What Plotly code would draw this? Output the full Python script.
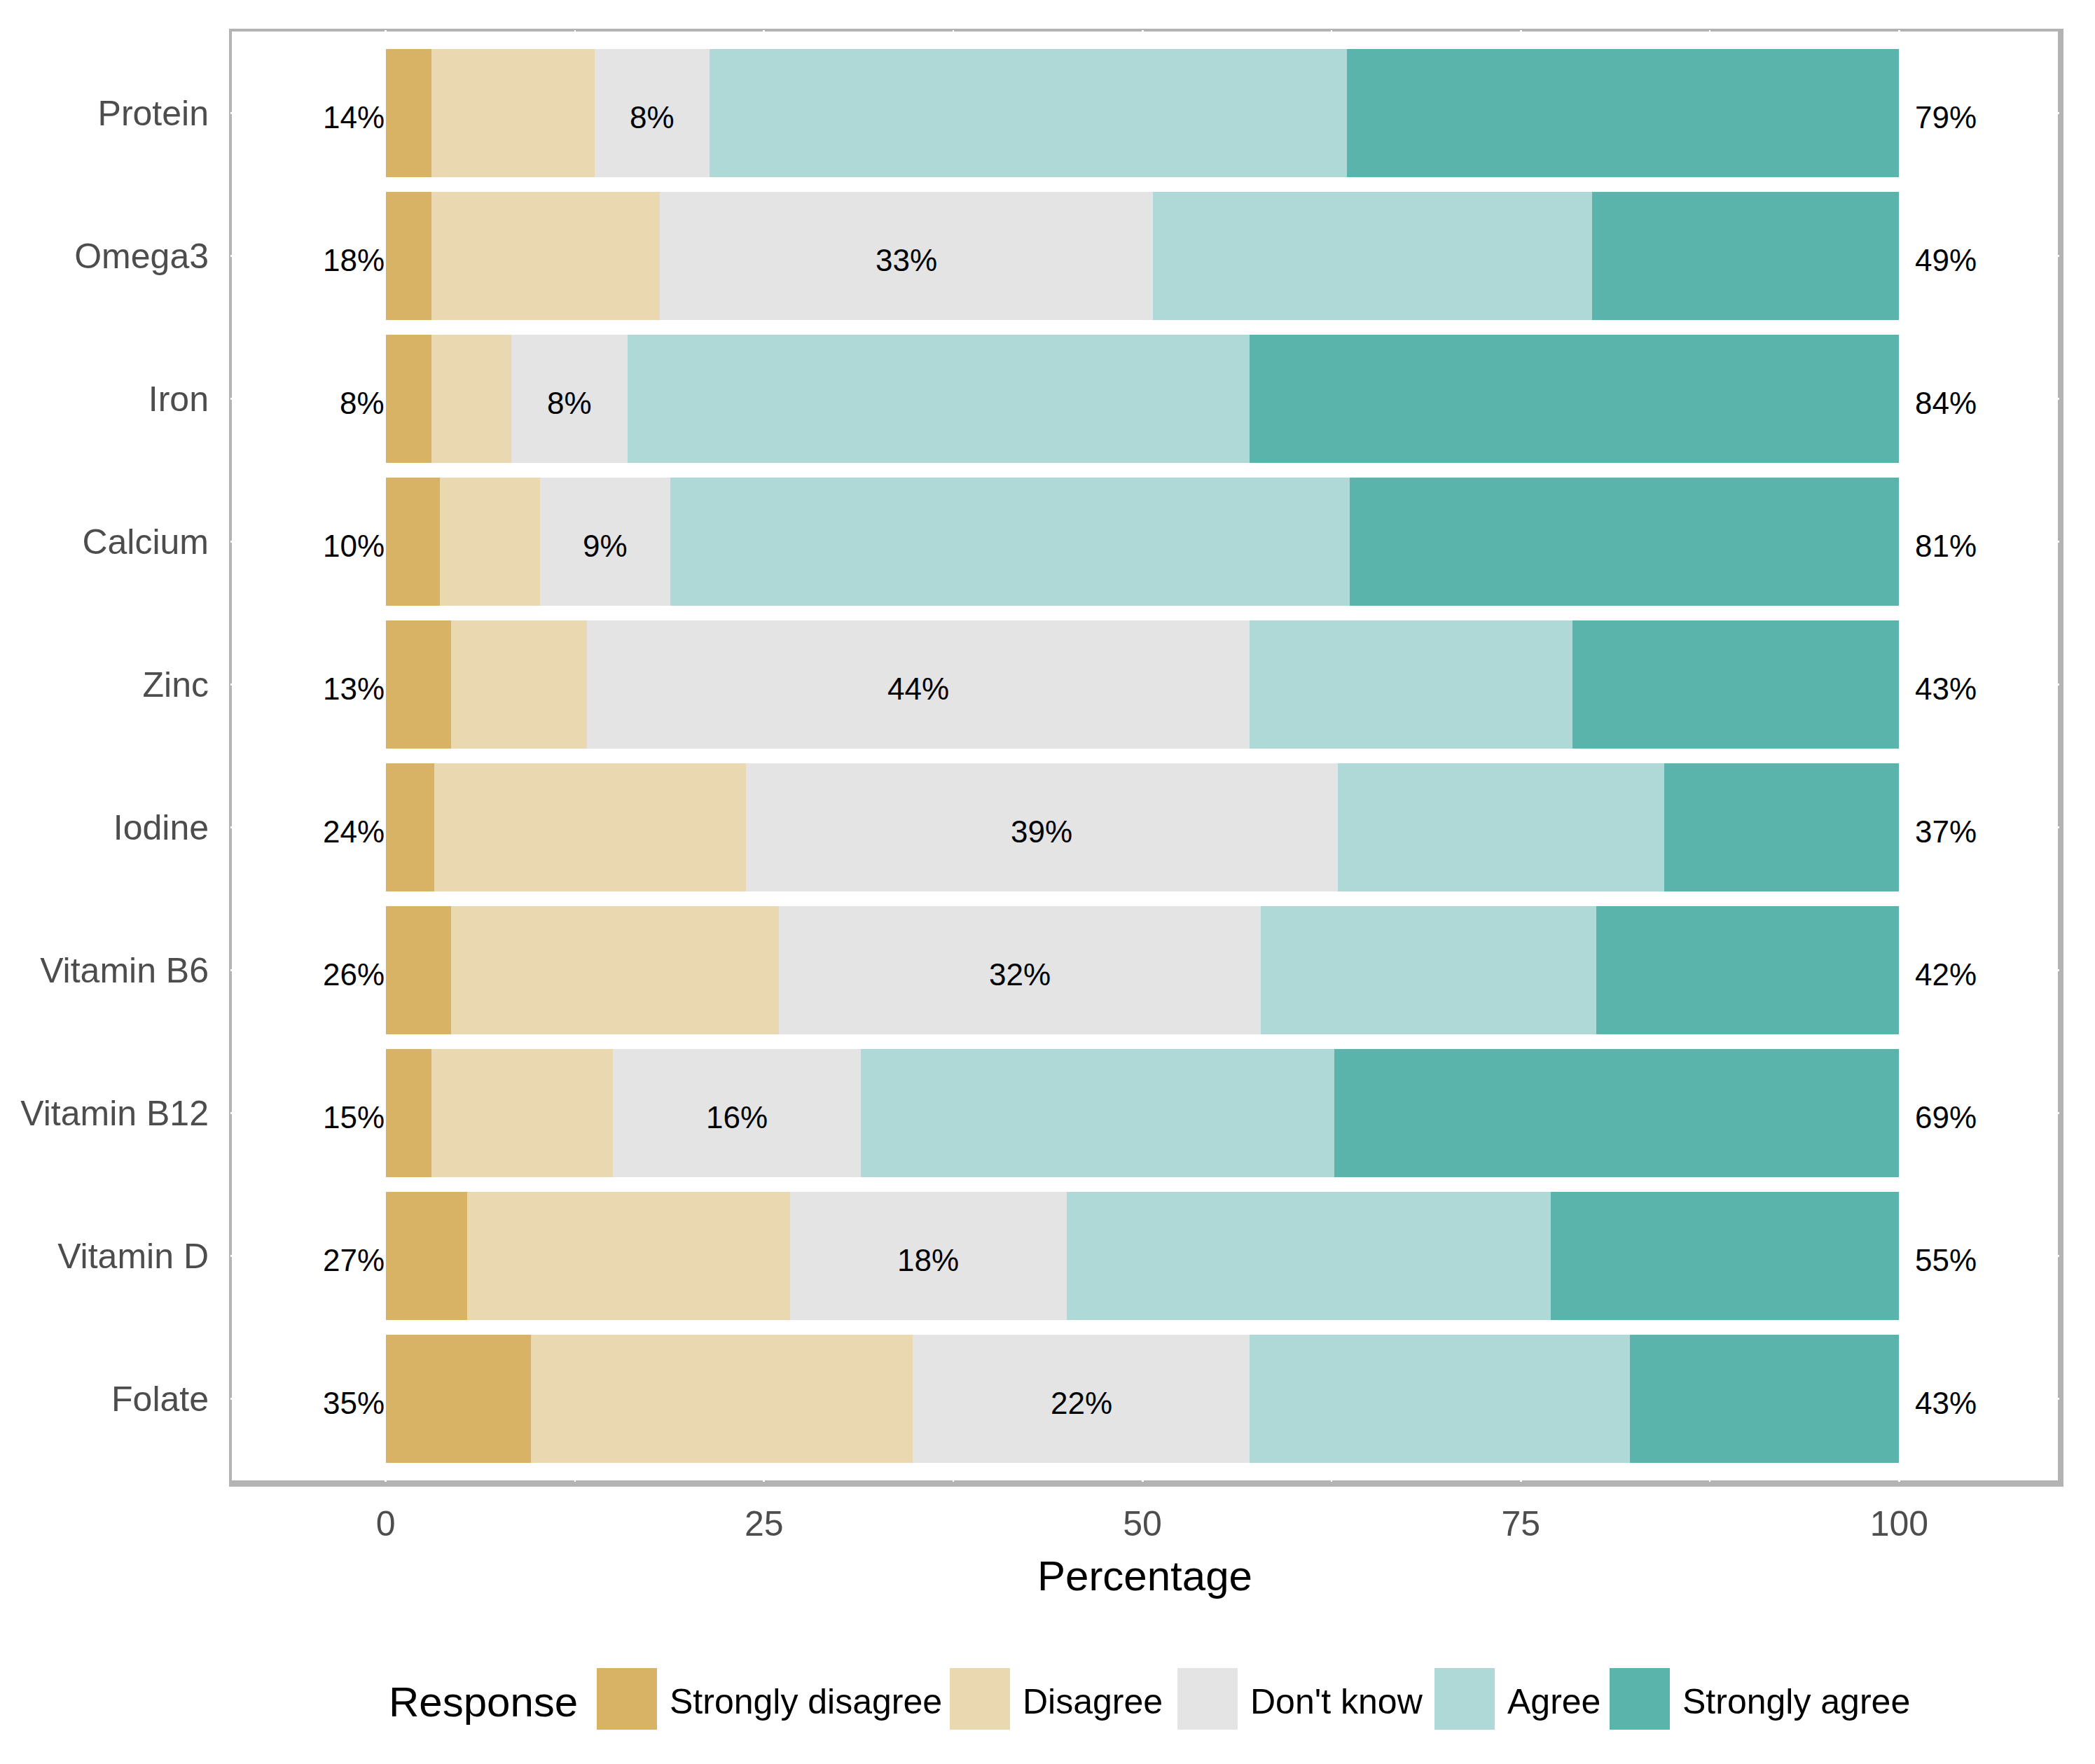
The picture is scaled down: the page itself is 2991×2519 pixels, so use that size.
import plotly.graph_objects as go

# ---------------- data ----------------
categories = ["Protein", "Omega3", "Iron", "Calcium", "Zinc", "Iodine",
              "Vitamin B6", "Vitamin B12", "Vitamin D", "Folate"]
responses = ["Strongly disagree", "Disagree", "Don't know", "Agree", "Strongly agree"]

strongly_disagree = [3.0, 3.0, 3.0, 3.6, 4.3, 3.2, 4.3, 3.0, 5.4, 9.6]
disagree          = [10.8, 15.1, 5.3, 6.6, 9.0, 20.6, 21.7, 12.0, 21.3, 25.2]
dont_know         = [7.6, 32.6, 7.7, 8.6, 43.8, 39.1, 31.8, 16.4, 18.3, 22.3]
agree             = [42.1, 29.0, 41.1, 44.9, 21.3, 21.6, 22.2, 31.3, 32.0, 25.1]
strongly_agree    = [36.5, 20.3, 42.9, 36.3, 21.6, 15.5, 20.0, 37.3, 23.0, 17.8]

x_ticks = [0, 25, 50, 75, 100]

# ---------------- style ----------------
colors = ["#D8B365", "#EAD8B1", "#E4E4E4", "#AED9D6", "#5AB4AC"]
FONT = "Liberation Sans, Arial, sans-serif"
OFF = 8  # default page body margin
W, H = 2991 - OFF, 2519 - OFF
L, R, T, B = 329 - OFF, 2940 - OFF, 43 - OFF, 2116 - OFF


def xp(px):
    return (px - OFF - L) / (R - L)


def yp(py):
    return (B - (py - OFF)) / (B - T)


def pct(v):
    return f"{int(v + 0.5)}%"


series = [strongly_disagree, disagree, dont_know, agree, strongly_agree]

fig = go.Figure()
for name, vals, col in zip(responses, series, colors):
    fig.add_trace(go.Bar(
        y=categories, x=vals, name=name, orientation="h",
        marker=dict(color=col, line=dict(width=0)),
        width=0.9, showlegend=False,
    ))

annotations = []
label_font = dict(family=FONT, size=44, color="#000000")
for i, cat in enumerate(categories):
    left = strongly_disagree[i] + disagree[i]
    mid = dont_know[i]
    right = agree[i] + strongly_agree[i]
    annotations.append(dict(x=0, y=cat, xref="x", yref="y", text=pct(left),
                            showarrow=False, xanchor="right", yanchor="middle",
                            yshift=-6, font=label_font))
    annotations.append(dict(x=left + mid / 2, y=cat, xref="x", yref="y", text=pct(mid),
                            showarrow=False, xanchor="center", yanchor="middle",
                            yshift=-6, font=label_font))
    annotations.append(dict(x=100, y=cat, xref="x", yref="y", text=pct(right),
                            showarrow=False, xanchor="left", yanchor="middle",
                            xshift=21, yshift=-6, font=label_font))

# axis title
annotations.append(dict(x=0.5, y=yp(2250), xref="paper", yref="paper", text="Percentage",
                        showarrow=False, xanchor="center", yanchor="middle",
                        font=dict(family=FONT, size=60, color="#000000")))

# legend (drawn manually to get ggplot-sized keys)
shapes = []
annotations.append(dict(x=xp(553), y=yp(2430), xref="paper", yref="paper", text="Response",
                        showarrow=False, xanchor="left", yanchor="middle",
                        font=dict(family=FONT, size=60, color="#000000")))
key_x = [852, 1356, 1681, 2048, 2298]
for kx, name, col in zip(key_x, responses, colors):
    shapes.append(dict(type="rect", xref="paper", yref="paper",
                       x0=xp(kx), x1=xp(kx + 86), y0=yp(2470), y1=yp(2382),
                       fillcolor=col, line=dict(width=0)))
    annotations.append(dict(x=xp(kx + 102), y=yp(2430), xref="paper", yref="paper", text=name,
                            showarrow=False, xanchor="left", yanchor="middle",
                            font=dict(family=FONT, size=50, color="#000000")))

# panel border (below the white grid lines so they cut through it)
border_col = "#B3B3B3"
shapes.append(dict(type="rect", xref="paper", yref="paper", x0=0, x1=1, y0=0, y1=1,
                   line=dict(color=border_col, width=4), layer="below"))
shapes.append(dict(type="line", xref="paper", yref="paper", x0=xp(2942.5), x1=xp(2942.5),
                   y0=yp(2123), y1=yp(41), line=dict(color=border_col, width=7), layer="below"))
shapes.append(dict(type="line", xref="paper", yref="paper", x0=xp(327), x1=xp(2946),
                   y0=yp(2119), y1=yp(2119), line=dict(color=border_col, width=8), layer="below"))

fig.update_layout(
    width=W, height=H,
    barmode="stack",
    paper_bgcolor="white", plot_bgcolor="white",
    margin=dict(l=L, r=W - R, t=T, b=H - B, pad=0),
    font=dict(family=FONT),
    showlegend=False,
    annotations=annotations,
    shapes=shapes,
)
fig.update_xaxes(
    range=[-10.26, 110.58], tickvals=x_ticks, ticktext=[str(v) for v in x_ticks],
    showgrid=True, gridcolor="white", gridwidth=3,
    minor=dict(dtick=12.5, tick0=0, showgrid=True, gridcolor="white", gridwidth=2),
    zeroline=False, showline=False, ticks="",
    tickfont=dict(family=FONT, size=50, color="#4D4D4D"),
    ticklabelstandoff=26,
)
fig.update_yaxes(
    categoryorder="array", categoryarray=categories,
    range=[9.58, -0.58],
    showgrid=True, gridcolor="white", gridwidth=3,
    zeroline=False, showline=False, ticks="",
    tickfont=dict(family=FONT, size=50, color="#4D4D4D"),
    ticklabelstandoff=30,
)

fig.write_html("out.html")
